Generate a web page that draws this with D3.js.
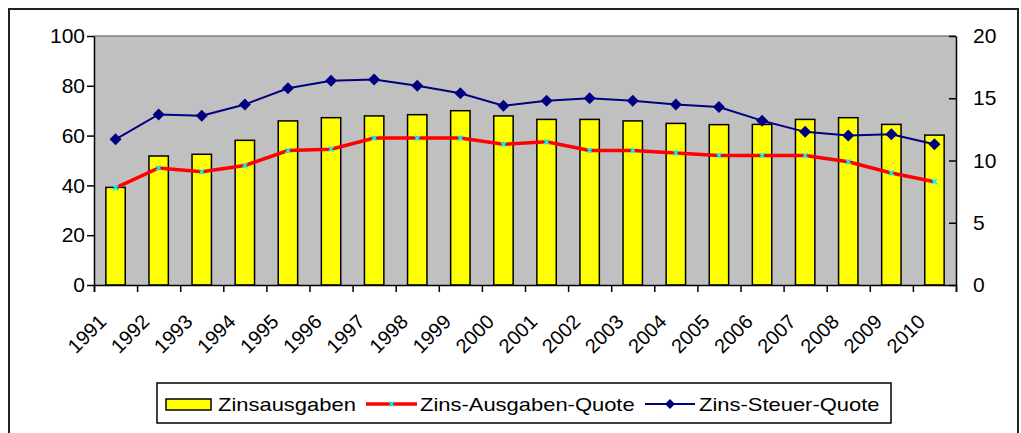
<!DOCTYPE html>
<html>
<head>
<meta charset="utf-8">
<script src="https://cdn.jsdelivr.net/npm/d3@7"></script>
<style>
  body { margin: 0; background: #fff; }
  text { font-family: "Liberation Sans", Arial, sans-serif; fill: #000; }
</style>
</head>
<body>
<div id="chart"></div>
<script>
// Data
var years = ["1991", "1992", "1993", "1994", "1995", "1996", "1997", "1998", "1999", "2000",
             "2001", "2002", "2003", "2004", "2005", "2006", "2007", "2008", "2009", "2010"];
var zinsausgaben = [39.2, 51.8, 52.5, 58.1, 65.9, 67.2, 67.9, 68.4, 70.0, 67.9,
                    66.5, 66.5, 65.9, 64.9, 64.4, 64.5, 66.5, 67.2, 64.5, 60.2];
var ausgabenQuote = [7.8, 9.4, 9.1, 9.6, 10.8, 10.9, 11.8, 11.8, 11.8, 11.3,
                     11.5, 10.8, 10.8, 10.6, 10.4, 10.4, 10.4, 9.9, 9.0, 8.3];
var steuerQuote = [11.7, 13.7, 13.6, 14.5, 15.8, 16.4, 16.5, 16.0, 15.4, 14.4,
                   14.8, 15.0, 14.8, 14.5, 14.3, 13.2, 12.3, 12.0, 12.1, 11.3];
var leftTicks = [0, 20, 40, 60, 80, 100];
var rightTicks = [0, 5, 10, 15, 20];
var legendLabels = ["Zinsausgaben", "Zins-Ausgaben-Quote", "Zins-Steuer-Quote"];

// Dimensions
var totalWidth = 1021, totalHeight = 433;
var margin = { top: 36, right: 65, bottom: 148, left: 94 };
var width = totalWidth - margin.left - margin.right;
var height = totalHeight - margin.top - margin.bottom;

var root = d3.select("#chart")
  .append("svg")
  .attr("width", totalWidth)
  .attr("height", totalHeight);

// Outer frame of the chart object
root.append("rect")
  .attr("x", 9).attr("y", 9)
  .attr("width", 1009).attr("height", 440)
  .attr("fill", "none")
  .attr("stroke", "#222")
  .attr("stroke-width", 2);

var svg = root.append("g")
  .attr("transform", "translate(" + margin.left + "," + margin.top + ")");

// Scales
var xBand = d3.scaleBand().domain(years).range([0, width])
  .paddingInner(0.55).paddingOuter(0.275);
var xEdge = d3.scaleLinear().domain([0, years.length]).range([0, width]);
var yLeft = d3.scaleLinear().domain([0, 100]).range([height, 0]);
var yRight = d3.scaleLinear().domain([0, 20]).range([height, 0]);

// Plot area
svg.append("rect")
  .attr("width", width).attr("height", height)
  .attr("fill", "#c0c0c0");
svg.append("line")
  .attr("x1", 0).attr("x2", width)
  .attr("y1", 0).attr("y2", 0)
  .attr("stroke", "#808080").attr("stroke-width", 1.5);

// Bars
svg.selectAll(".bar")
  .data(zinsausgaben)
  .enter()
  .append("rect")
  .attr("class", "bar")
  .attr("x", function (d, i) { return xBand(years[i]); })
  .attr("y", function (d) { return yLeft(d); })
  .attr("width", xBand.bandwidth())
  .attr("height", function (d) { return height - yLeft(d); })
  .attr("fill", "#ffff00")
  .attr("stroke", "#000")
  .attr("stroke-width", 1.5);

function cx(i) { return xBand(years[i]) + xBand.bandwidth() / 2; }

// Zins-Steuer-Quote line (blue with diamonds)
var blueLine = d3.line()
  .x(function (d, i) { return cx(i); })
  .y(function (d) { return yRight(d); });
svg.append("path")
  .datum(steuerQuote)
  .attr("d", blueLine)
  .attr("fill", "none")
  .attr("stroke", "#000080")
  .attr("stroke-width", 2);
svg.selectAll(".diamond")
  .data(steuerQuote)
  .enter()
  .append("path")
  .attr("class", "diamond")
  .attr("d", "M0,-6L6,0L0,6L-6,0Z")
  .attr("transform", function (d, i) { return "translate(" + cx(i) + "," + yRight(d) + ")"; })
  .attr("fill", "#000080");

// Zins-Ausgaben-Quote line (red with cyan x markers)
var redLine = d3.line()
  .x(function (d, i) { return cx(i); })
  .y(function (d) { return yRight(d); });
svg.append("path")
  .datum(ausgabenQuote)
  .attr("d", redLine)
  .attr("fill", "none")
  .attr("stroke", "#ff0000")
  .attr("stroke-width", 3.5);
svg.selectAll(".xmark")
  .data(ausgabenQuote)
  .enter()
  .append("path")
  .attr("class", "xmark")
  .attr("d", "M-2.5,-2.5L2.5,2.5M-2.5,2.5L2.5,-2.5")
  .attr("transform", function (d, i) { return "translate(" + cx(i) + "," + yRight(d) + ")"; })
  .attr("stroke", "#00ffff")
  .attr("stroke-width", 1.6);

// Axes
var xAxis = d3.axisBottom(xEdge)
  .tickValues(d3.range(years.length + 1))
  .tickSize(7)
  .tickFormat("");
var gx = svg.append("g")
  .attr("transform", "translate(0," + height + ")")
  .call(xAxis);

var gl = svg.append("g")
  .call(d3.axisLeft(yLeft).tickValues(leftTicks).tickSize(7).tickSizeOuter(0).tickPadding(2));

var gr = svg.append("g")
  .attr("transform", "translate(" + width + ",0)")
  .call(d3.axisRight(yRight).tickValues(rightTicks).tickSizeInner(-7).tickSizeOuter(0).tickPadding(17));

[gx, gl, gr].forEach(function (g) {
  g.select(".domain").attr("stroke", "#000").attr("stroke-width", 1.5);
  g.selectAll(".tick line").attr("stroke", "#000").attr("stroke-width", 1.5);
  g.selectAll(".tick text").style("font-size", "21px").attr("fill", "#000")
    .style("font-family", "'Liberation Sans', Arial, sans-serif");
});

// Rotated year labels
svg.selectAll(".year")
  .data(years)
  .enter()
  .append("text")
  .attr("class", "year")
  .attr("transform", function (d, i) {
    return "translate(" + (cx(i) - 8) + "," + (height + 38) + ") rotate(-45)";
  })
  .attr("text-anchor", "end")
  .style("font-size", "20px")
  .text(function (d) { return d; });

// Legend
var legend = root.append("g");
legend.append("rect")
  .attr("x", 157).attr("y", 383)
  .attr("width", 734).attr("height", 40)
  .attr("fill", "#fff")
  .attr("stroke", "#000")
  .attr("stroke-width", 1.5);

legend.append("rect")
  .attr("x", 166).attr("y", 399)
  .attr("width", 45).attr("height", 11)
  .attr("fill", "#ffff00")
  .attr("stroke", "#000")
  .attr("stroke-width", 1.5);

legend.append("line")
  .attr("x1", 366).attr("x2", 417).attr("y1", 404).attr("y2", 404)
  .attr("stroke", "#ff0000").attr("stroke-width", 3.5);
legend.append("path")
  .attr("d", "M-2.5,-2.5L2.5,2.5M-2.5,2.5L2.5,-2.5")
  .attr("transform", "translate(391.5,404)")
  .attr("stroke", "#00ffff").attr("stroke-width", 1.6);

legend.append("line")
  .attr("x1", 645).attr("x2", 695).attr("y1", 404).attr("y2", 404)
  .attr("stroke", "#000080").attr("stroke-width", 2);
legend.append("path")
  .attr("d", "M0,-5L5,0L0,5L-5,0Z")
  .attr("transform", "translate(670,404)")
  .attr("fill", "#000080");

var legendX = [218, 420, 699];
legend.selectAll(".ltext")
  .data(legendLabels)
  .enter()
  .append("text")
  .attr("class", "ltext")
  .attr("transform", function (d, i) { return "translate(" + legendX[i] + ",411) scale(1.22,1)"; })
  .style("font-size", "18px")
  .text(function (d) { return d; });
</script>
</body>
</html>
